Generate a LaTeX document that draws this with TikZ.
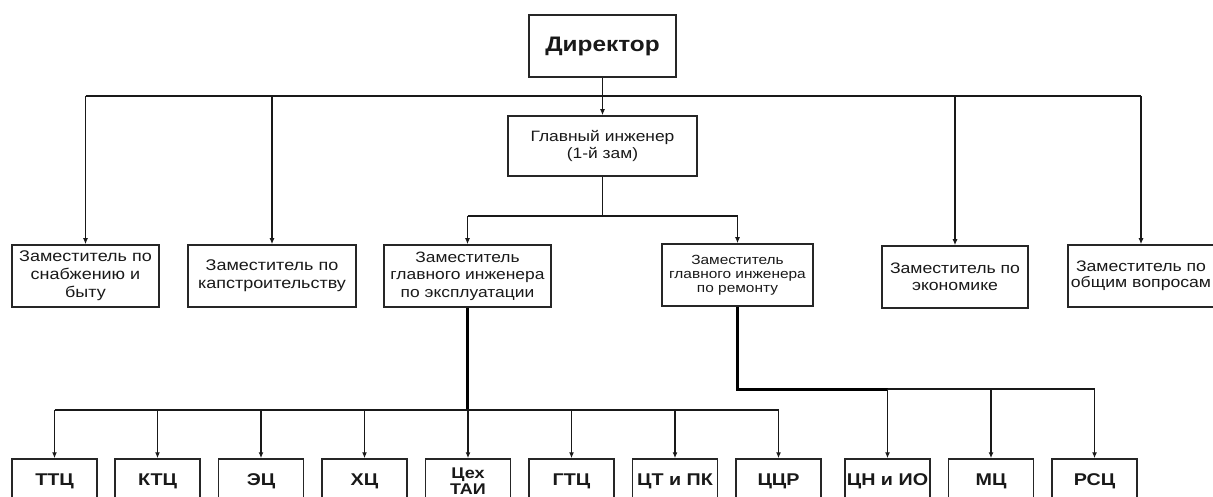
\documentclass[tikz,border=0pt]{standalone}
\usepackage{fontspec}
\setmainfont[FakeStretch=1.16]{Liberation Sans}
\usetikzlibrary{arrows.meta}
\begin{document}
\begin{tikzpicture}[x=1pt,y=-1pt,
  box/.style={draw=black!85, line width=1.5pt, rectangle, align=center, inner sep=1pt, text=black!90},
  zbox/.style={box, minimum height=62, font=\fontsize{15.5}{18}\selectfont},
  cbox/.style={box, minimum width=85, minimum height=44, font=\bfseries\fontsize{17}{19}\selectfont},
  ln/.style={draw=black!90, line width=1.6pt},
  arr/.style={ln, -{Latex[length=6pt,width=5pt]}},
  busline/.style={draw=black!90, line width=2.2pt},
  thickline/.style={draw=black, line width=3pt}
]
\clip (0,0) rectangle (1213,497);
\fill[white] (0,0) rectangle (1213,497);

% nodes
\node[box, font=\bfseries\fontsize{21}{24}\selectfont, minimum width=147, minimum height=62] (dir) at (602.5,46) {Директор};
\node[box, font=\fontsize{15}{17}\selectfont, minimum width=189, minimum height=60] (gi) at (602.5,146) {Главный инженер\\(1-й зам)};

\node[zbox, minimum width=147] (z1) at (85.5,276) {Заместитель по\\снабжению и\\быту};
\node[zbox, minimum width=168] (z2) at (272,276) {Заместитель по\\капстроительству};
\node[zbox, minimum width=167, font=\fontsize{15}{17.5}\selectfont] (z3) at (467.5,276) {Заместитель\\главного инженера\\по эксплуатации};
\node[zbox, minimum width=151, font=\fontsize{13.3}{14}\selectfont] (z4) at (737.5,275) {Заместитель\\главного инженера\\по ремонту};
\node[zbox, minimum width=146, font=\fontsize{15.2}{16.5}\selectfont] (z5) at (955,277) {Заместитель по\\экономике};
\node[zbox, minimum width=146, font=\fontsize{15.2}{16.5}\selectfont] (z6) at (1141,276) {Заместитель по\\общим вопросам};

\node[cbox] (c1) at (54.5,481) {ТТЦ};
\node[cbox] (c2) at (157.5,481) {КТЦ};
\node[cbox] (c3) at (261,481) {ЭЦ};
\node[cbox] (c4) at (364.5,481) {ХЦ};
\node[cbox, font=\bfseries\fontsize{15.5}{16.5}\selectfont] (c5) at (468,481) {Цех\\ТАИ};
\node[cbox] (c6) at (571.5,481) {ГТЦ};
\node[cbox] (c7) at (675,481) {ЦТ и ПК};
\node[cbox] (c8) at (778.5,481) {ЦЦР};
\node[cbox] (r1) at (887.5,481) {ЦН и ИО};
\node[cbox] (r2) at (991,481) {МЦ};
\node[cbox] (r3) at (1094.5,481) {РСЦ};

% top level
\coordinate (bt) at (602.5,96);
\draw[arr] (dir.south) -- (gi.north);
\draw[busline] (z1.north |- bt) -- (z6.north |- bt);
\foreach \n in {z1,z2,z5,z6} \draw[arr] (\n.north |- bt) -- (\n.north);

% chief engineer branch
\coordinate (bg) at (602.5,216);
\draw[ln] (gi.south) -- (bg);
\draw[ln] (z3.north |- bg) -- (z4.north |- bg);
\draw[arr] (z3.north |- bg) -- (z3.north);
\draw[arr, line width=1.9pt] (z4.north |- bg) -- (z4.north);

% operations departments
\coordinate (b3) at (467.5,410);
\draw[thickline] (z3.south) -- (b3);
\draw[busline] (c1.north |- b3) -- (c8.north |- b3);
\foreach \n in {c1,c2,c3,c4,c5,c6,c7,c8} \draw[arr] (\n.north |- b3) -- (\n.north);

% repair departments
\coordinate (b4) at (737.5,389);
\draw[thickline] (z4.south) -- (b4) -- (r1.north |- b4);
\draw[busline] (r1.north |- b4) -- (r3.north |- b4);
\foreach \n in {r1,r2,r3} \draw[arr] (\n.north |- b4) -- (\n.north);
\end{tikzpicture}
\end{document}
